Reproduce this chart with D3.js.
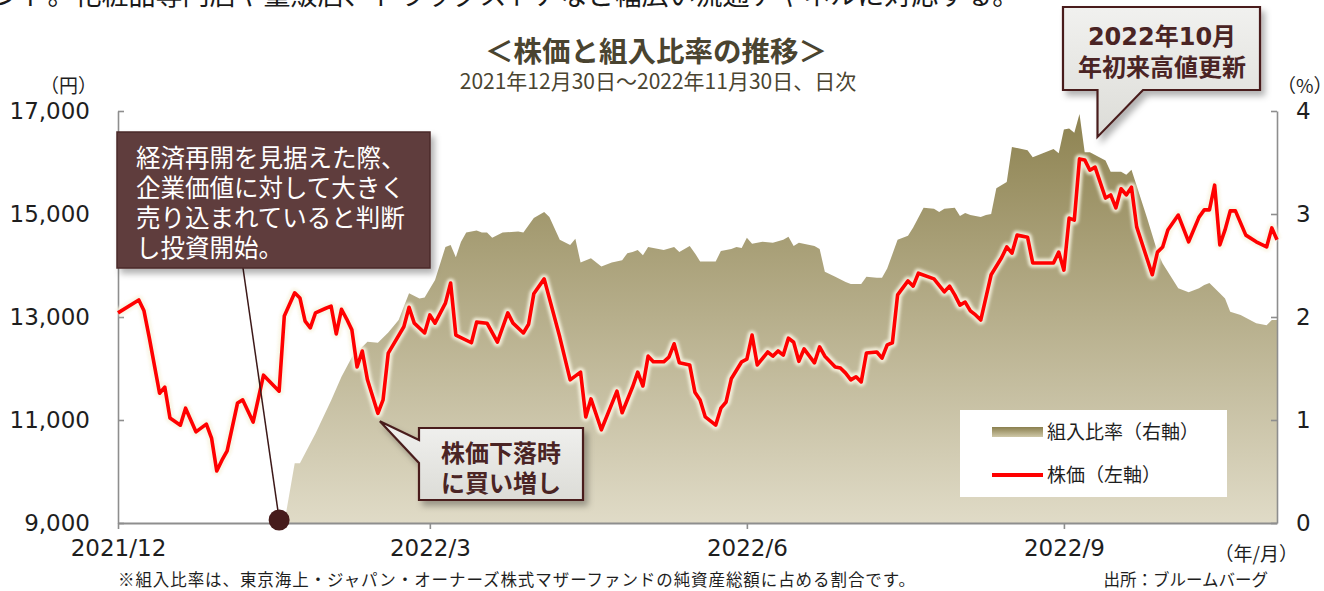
<!DOCTYPE html>
<html lang="ja">
<head>
<meta charset="utf-8">
<script src="https://cdn.jsdelivr.net/npm/d3@7"></script>
<style>
    body { margin: 0; background: #fff; }
    svg { display: block; font-family: "Noto Sans CJK JP", sans-serif; }
</style>
</head>
<body>
<div id="chart"></div>
<script>
// trading day number (0 = 2021/12/30, 223 = 2022/11/30) and closing price, yen
const priceDays = [0, 4, 5, 6, 8, 9, 10, 12, 13, 14, 15, 17, 18, 19, 20, 21, 23, 24, 26, 28,
    31, 32, 34, 35, 36, 37, 38, 40, 41, 42, 43, 44, 45, 46, 47, 48, 50, 51, 52, 55,
    56, 57, 59, 60, 61, 63, 64, 65, 68, 69, 71, 73, 75, 76, 78, 79, 80, 82, 85, 87,
    89, 90, 91, 93, 96, 97, 99, 100, 101, 102, 103, 105, 106, 107, 108, 110, 111, 112, 113, 115,
    116, 117, 118, 120, 121, 122, 123, 125, 126, 127, 128, 129, 130, 131, 132, 134, 135, 136, 138, 139,
    140, 141, 142, 143, 144, 146, 147, 148, 149, 150, 152, 153, 154, 157, 159, 160, 161, 162, 163, 164,
    165, 166, 168, 170, 171, 172, 173, 175, 176, 180, 181, 182, 183, 184, 185, 186, 187, 188, 190, 191,
    192, 193, 194, 195, 196, 199, 200, 201, 202, 204, 206, 208, 209, 210, 211, 212, 213, 214, 215, 217,
    219, 221, 222, 223];
const priceValues = [13080, 13330, 13120, 12610, 11520, 11640, 11040, 10900, 11230, 11000, 10770, 10920, 10650, 10010, 10220, 10400, 11330, 11390, 10960, 11870,
    11560, 13020, 13470, 13370, 12920, 12790, 13080, 13170, 13210, 12670, 13150, 12960, 12750, 12030, 12340, 11780, 11130, 11390, 12300, 12810,
    13190, 12880, 12690, 13040, 12880, 13270, 13660, 12650, 12500, 12900, 12880, 12510, 13080, 12880, 12690, 12860, 13450, 13740, 12610, 11780,
    11930, 11060, 11410, 10810, 11560, 11140, 11640, 11930, 11660, 12240, 12130, 12130, 12220, 12480, 12110, 12070, 11540, 11390, 11060, 10900,
    11230, 11350, 11800, 12130, 12180, 12650, 12070, 12320, 12240, 12340, 12260, 12590, 12510, 12140, 12380, 12110, 12420, 12240, 12030, 12010,
    11910, 11780, 11840, 11740, 12300, 12320, 12200, 12460, 12500, 13430, 13700, 13600, 13850, 13740, 13490, 13600, 13430, 13230, 13290, 13120,
    13040, 12940, 13820, 14150, 14360, 14240, 14590, 14550, 14050, 14050, 14260, 13910, 14920, 14880, 16070, 16050, 15850, 15910, 15310, 15370,
    15120, 15490, 15370, 15520, 14750, 13820, 14260, 14360, 14690, 14980, 14460, 14940, 15080, 15080, 15560, 14400, 14690, 15060, 15060, 14590,
    14460, 14360, 14730, 14500];

// trading day number and weight in the mother fund, %
const ratioDays = [32, 34, 35, 38, 41, 43, 45, 48, 50, 52, 54, 56, 58, 59, 61, 63, 64, 65, 66, 67,
    68, 69, 70, 71, 72, 74, 77, 78, 80, 82, 83, 85, 87, 88, 89, 91, 93, 95, 97, 98,
    99, 100, 101, 102, 103, 105, 107, 108, 110, 111, 112, 115, 116, 118, 119, 120, 121, 122, 124, 126,
    128, 129, 130, 131, 134, 135, 136, 138, 140, 141, 143, 144, 146, 147, 148, 150, 152, 153, 155, 157,
    158, 159, 161, 162, 163, 164, 166, 167, 168, 169, 171, 172, 175, 176, 180, 181, 182, 183, 184, 185,
    186, 187, 190, 191, 193, 194, 195, 198, 200, 201, 204, 206, 208, 209, 210, 212, 213, 214, 216, 219,
    221, 222, 223];
const ratioValues = [0, 0.58, 0.58, 0.87, 1.19, 1.42, 1.61, 1.76, 1.75, 1.85, 1.97, 2.23, 2.18, 2.19, 2.36, 2.68, 2.70, 2.58, 2.73, 2.82,
    2.83, 2.84, 2.82, 2.82, 2.77, 2.82, 2.83, 2.82, 2.96, 3.02, 2.97, 2.75, 2.70, 2.76, 2.53, 2.57, 2.49, 2.53, 2.55, 2.62,
    2.63, 2.65, 2.60, 2.68, 2.67, 2.65, 2.68, 2.63, 2.69, 2.62, 2.54, 2.54, 2.64, 2.66, 2.68, 2.67, 2.77, 2.71, 2.73, 2.72,
    2.75, 2.78, 2.69, 2.72, 2.69, 2.66, 2.44, 2.39, 2.34, 2.32, 2.32, 2.39, 2.38, 2.38, 2.47, 2.75, 2.79, 2.87, 3.06, 3.05,
    3.02, 3.05, 3.06, 2.98, 3.01, 2.99, 2.97, 2.99, 3.00, 3.25, 3.31, 3.65, 3.62, 3.55, 3.63, 3.59, 3.82, 3.83, 3.79, 3.97,
    3.60, 3.60, 3.52, 3.41, 3.41, 3.38, 3.43, 2.96, 2.63, 2.52, 2.28, 2.24, 2.28, 2.31, 2.33, 2.23, 2.18, 2.05, 2.02, 1.94,
    1.92, 1.97, 1.97];

const lastDay = 223;
const xTickDays = [0, 60, 121, 182];
const xTickLabels = ['2021/12', '2022/3', '2022/6', '2022/9'];
const priceTicks = [9000, 11000, 13000, 15000, 17000];
const ratioTicks = [0, 1, 2, 3, 4];

const entryDay = 31;   // investment start
const dipDay = 50;     // buying on the dip
const highDay = 185;   // new high in October

function drawChart() {
    const width = 1324;
    const height = 591;
    const plot = { left: 118, right: 1277, top: 111, bottom: 523 };
    const axisColor = '#8e8e8e';
    const numFont = '"DejaVu Sans", "Noto Sans CJK JP", sans-serif';

    const priceData = priceDays.map((d, i) => ({ day: d, value: priceValues[i] }));
    const ratioData = ratioDays.map((d, i) => ({ day: d, value: ratioValues[i] }));

    const x = d3.scaleLinear().domain([0, lastDay]).range([plot.left, plot.right]);
    const yPrice = d3.scaleLinear().domain([9000, 17000]).range([plot.bottom, plot.top]);
    const yRatio = d3.scaleLinear().domain([0, 4]).range([plot.bottom, plot.top]);

    const svg = d3.select('#chart').append('svg')
        .attr('width', width)
        .attr('height', height);

    svg.append('rect').attr('width', width).attr('height', height).attr('fill', '#fff');

    const defs = svg.append('defs');

    const areaGrad = defs.append('linearGradient')
        .attr('id', 'areaFill')
        .attr('gradientUnits', 'userSpaceOnUse')
        .attr('x1', 0).attr('y1', plot.top)
        .attr('x2', 0).attr('y2', plot.bottom);
    areaGrad.append('stop').attr('offset', 0).attr('stop-color', '#8d8250');
    areaGrad.append('stop').attr('offset', 1).attr('stop-color', '#e0dbc7');

    const swatchGrad = defs.append('linearGradient')
        .attr('id', 'swatchFill')
        .attr('x1', 0).attr('y1', 0).attr('x2', 0).attr('y2', 1);
    swatchGrad.append('stop').attr('offset', 0).attr('stop-color', '#8a7f4e');
    swatchGrad.append('stop').attr('offset', 1).attr('stop-color', '#cfc8a8');

    const boxGrad = defs.append('linearGradient')
        .attr('id', 'boxFill')
        .attr('x1', 0).attr('y1', 0).attr('x2', 0).attr('y2', 1);
    boxGrad.append('stop').attr('offset', 0).attr('stop-color', '#f1f1ef');
    boxGrad.append('stop').attr('offset', 1).attr('stop-color', '#dcdcd7');

    defs.append('filter').attr('id', 'glow')
        .attr('x', '-5%').attr('y', '-5%').attr('width', '110%').attr('height', '110%')
        .append('feGaussianBlur').attr('stdDeviation', 1.6);

    defs.append('filter').attr('id', 'shadow')
        .attr('x', '-10%').attr('y', '-10%').attr('width', '130%').attr('height', '140%')
        .append('feDropShadow')
        .attr('dx', 4).attr('dy', 5)
        .attr('stdDeviation', 3)
        .attr('flood-color', '#000')
        .attr('flood-opacity', 0.3);

    // text cut off at the top of the page
    svg.append('text')
        .attr('x', -6)
        .attr('y', 5)
        .style('font-size', '27px')
        .attr('fill', '#1a1a1a')
        .text('ンド。化粧品専門店や量販店、ドラッグストアなど幅広い流通チャネルに対応する。');

    // title
    svg.append('text')
        .attr('x', 656)
        .attr('y', 62)
        .attr('text-anchor', 'middle')
        .style('font-size', '28.5px')
        .style('font-weight', 'bold')
        .attr('fill', '#4a4430')
        .text('＜株価と組入比率の推移＞');

    svg.append('text')
        .attr('x', 658)
        .attr('y', 89)
        .attr('text-anchor', 'middle')
        .style('font-size', '21px')
        .attr('fill', '#4a4430')
        .text('2021年12月30日～2022年11月30日、日次');

    // weight area (right axis)
    const area = d3.area()
        .x(d => x(d.day))
        .y0(yRatio(0))
        .y1(d => yRatio(d.value));

    svg.append('path')
        .datum(ratioData)
        .attr('d', area)
        .attr('fill', 'url(#areaFill)');

    // axes
    const leftAxis = d3.axisLeft(yPrice)
        .tickValues(priceTicks)
        .tickFormat(d3.format(','))
        .tickSizeInner(-6)
        .tickSizeOuter(0)
        .tickPadding(28);

    const rightAxis = d3.axisRight(yRatio)
        .tickValues(ratioTicks)
        .tickFormat(d3.format('d'))
        .tickSizeInner(-6)
        .tickSizeOuter(0)
        .tickPadding(19);

    const bottomAxis = d3.axisBottom(x)
        .tickValues(xTickDays)
        .tickFormat((d, i) => xTickLabels[i])
        .tickSizeInner(6)
        .tickSizeOuter(0)
        .tickPadding(11);

    const gLeft = svg.append('g')
        .attr('transform', `translate(${plot.left},0)`)
        .call(leftAxis);

    const gRight = svg.append('g')
        .attr('transform', `translate(${plot.right},0)`)
        .call(rightAxis);

    const gBottom = svg.append('g')
        .attr('transform', `translate(0,${plot.bottom})`)
        .call(bottomAxis);

    [gLeft, gRight, gBottom].forEach(g => {
        g.select('.domain').attr('stroke', axisColor).attr('stroke-width', 1.6);
        g.selectAll('.tick line').attr('stroke', axisColor).attr('stroke-width', 1.6);
        g.selectAll('.tick text')
            .attr('fill', '#1e1e1e')
            .style('font-family', numFont)
            .style('font-size', '23px');
    });
    gBottom.select('.domain').attr('stroke-width', 2.2);

    // unit labels
    svg.append('text')
        .attr('x', 97).attr('y', 93)
        .attr('text-anchor', 'end')
        .style('font-size', '19px')
        .attr('fill', '#1e1e1e')
        .text('（円）');

    svg.append('text')
        .attr('x', 1277).attr('y', 93)
        .style('font-size', '19px')
        .attr('fill', '#1e1e1e')
        .text('（%）');

    svg.append('text')
        .attr('x', 1298).attr('y', 561)
        .attr('text-anchor', 'end')
        .style('font-size', '19px')
        .attr('fill', '#1e1e1e')
        .text('（年/月）');

    // price line (left axis) with a soft halo
    const line = d3.line()
        .x(d => x(d.day))
        .y(d => yPrice(d.value));

    svg.append('path')
        .datum(priceData)
        .attr('d', line)
        .attr('fill', 'none')
        .attr('stroke', '#f8f4e2')
        .attr('stroke-width', 9)
        .attr('stroke-linejoin', 'round')
        .attr('opacity', 0.9)
        .attr('filter', 'url(#glow)');

    svg.append('path')
        .datum(priceData)
        .attr('d', line)
        .attr('fill', 'none')
        .attr('stroke', '#ff0000')
        .attr('stroke-width', 3.6)
        .attr('stroke-linejoin', 'round');

    // legend
    const legend = svg.append('g');
    legend.append('rect')
        .attr('x', 960).attr('y', 410)
        .attr('width', 267).attr('height', 87)
        .attr('fill', '#fff');
    legend.append('rect')
        .attr('x', 992).attr('y', 427)
        .attr('width', 51).attr('height', 10)
        .attr('fill', 'url(#swatchFill)');
    legend.append('text')
        .attr('x', 1047).attr('y', 439)
        .style('font-size', '19px')
        .attr('fill', '#1e1e1e')
        .text('組入比率（右軸）');
    legend.append('line')
        .attr('x1', 992).attr('x2', 1043)
        .attr('y1', 475).attr('y2', 475)
        .attr('stroke', '#ff0000')
        .attr('stroke-width', 4);
    legend.append('text')
        .attr('x', 1047).attr('y', 482)
        .style('font-size', '19px')
        .attr('fill', '#1e1e1e')
        .text('株価（左軸）');

    // callout: start of investment
    const entryX = x(entryDay);
    svg.append('line')
        .attr('x1', 243).attr('y1', 268)
        .attr('x2', entryX).attr('y2', plot.bottom - 4)
        .attr('stroke', '#3c1818')
        .attr('stroke-width', 1.5);

    svg.append('rect')
        .attr('x', 117).attr('y', 132)
        .attr('width', 313).attr('height', 136)
        .attr('fill', '#5f3e3e')
        .attr('stroke', '#4a2828')
        .attr('stroke-width', 1.5)
        .attr('filter', 'url(#shadow)');

    const entryLines = ['経済再開を見据えた際、', '企業価値に対して大きく', '売り込まれていると判断', 'し投資開始。'];
    svg.append('g').selectAll('text')
        .data(entryLines)
        .enter()
        .append('text')
        .attr('x', 136)
        .attr('y', (d, i) => 167 + i * 30)
        .style('font-size', '24.5px')
        .attr('fill', '#fff')
        .text(d => d);

    svg.append('circle')
        .attr('cx', entryX)
        .attr('cy', plot.bottom - 3)
        .attr('r', 10.5)
        .attr('fill', '#461b1b');

    // callout: buying on the dip
    const dipValue = priceValues[priceDays.indexOf(dipDay)];
    const dipX = x(dipDay) + 2;
    const dipY = yPrice(dipValue) + 8;
    svg.append('path')
        .attr('d', `M419,428H583V500H419V463L${dipX},${dipY}L419,440Z`)
        .attr('fill', 'url(#boxFill)')
        .attr('stroke', '#4a1f1f')
        .attr('stroke-width', 2.2)
        .attr('stroke-linejoin', 'miter')
        .attr('filter', 'url(#shadow)');

    svg.append('g').selectAll('text')
        .data(['株価下落時', 'に買い増し'])
        .enter()
        .append('text')
        .attr('x', 501)
        .attr('y', (d, i) => 462 + i * 30)
        .attr('text-anchor', 'middle')
        .style('font-size', '24px')
        .style('font-weight', 'bold')
        .attr('fill', '#4a2424')
        .text(d => d);

    // callout: new high
    const highX = x(highDay) + 18;
    const highY = yPrice(priceValues[priceDays.indexOf(highDay)]) - 22;
    svg.append('path')
        .attr('d', `M1063,7H1260V90H1143L${highX},${highY}V90H1063Z`)
        .attr('fill', 'url(#boxFill)')
        .attr('stroke', '#4a1f1f')
        .attr('stroke-width', 2.2)
        .attr('filter', 'url(#shadow)');

    svg.append('text')
        .attr('x', 1162).attr('y', 45)
        .attr('text-anchor', 'middle')
        .style('font-family', numFont)
        .style('font-size', '24px')
        .style('font-weight', 'bold')
        .attr('fill', '#4a2424')
        .text('2022年10月');

    svg.append('text')
        .attr('x', 1162).attr('y', 76)
        .attr('text-anchor', 'middle')
        .style('font-size', '24px')
        .style('font-weight', 'bold')
        .attr('fill', '#4a2424')
        .text('年初来高値更新');

    // footnotes
    svg.append('text')
        .attr('x', 118).attr('y', 586)
        .attr('textLength', 797)
        .attr('lengthAdjust', 'spacing')
        .style('font-size', '16.5px')
        .attr('fill', '#1e1e1e')
        .text('※組入比率は、東京海上・ジャパン・オーナーズ株式マザーファンドの純資産総額に占める割合です。');

    svg.append('text')
        .attr('x', 1268).attr('y', 586)
        .attr('text-anchor', 'end')
        .style('font-size', '16.5px')
        .attr('fill', '#1e1e1e')
        .text('出所：ブルームバーグ');
}

drawChart();
</script>
</body>
</html>
